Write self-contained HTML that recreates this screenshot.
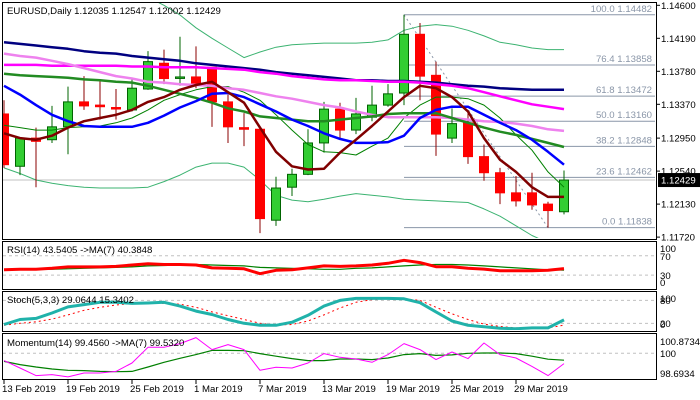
<!DOCTYPE html>
<html><head><meta charset="utf-8"><style>
html,body{margin:0;padding:0;background:#fff;}
svg{display:block;font-family:"Liberation Sans",sans-serif;}
</style></head><body>
<svg id="c" width="700" height="400" viewBox="0 0 700 400" xmlns="http://www.w3.org/2000/svg">
<defs>
<clipPath id="cm"><rect x="3" y="3" width="652" height="235"/></clipPath>
<clipPath id="cr"><rect x="3" y="242" width="652" height="46"/></clipPath>
<clipPath id="cs"><rect x="3" y="292" width="652" height="38"/></clipPath>
<clipPath id="cmo"><rect x="3" y="334" width="652" height="45"/></clipPath>
</defs>
<rect x="0" y="0" width="700" height="400" fill="#fff"/>
<g id="main"></g>
<g id="rsi"></g>
<g id="stoch"></g>
<g id="mom"></g>
<g id="axes"></g>
</svg>
<script>
const opens=[1.1325,1.1260,1.1295,1.1293,1.1309,1.1340,1.1336,1.1333,1.1330,1.1356,1.1388,1.1370,1.1371,1.1383,1.1340,1.1308,1.1306,1.1193,1.1234,1.1250,1.1289,1.1331,1.1305,1.1321,1.1336,1.1351,1.1424,1.1373,1.1295,1.1314,1.1272,1.1252,1.1227,1.1227,1.1213,1.12035];
const highs=[1.1342,1.1296,1.1308,1.1335,1.1359,1.1372,1.1367,1.1356,1.1369,1.1403,1.1405,1.1421,1.1409,1.1383,1.1349,1.1326,1.1306,1.1247,1.1257,1.1306,1.1340,1.1339,1.1345,1.1360,1.1362,1.14482,1.1438,1.1390,1.1332,1.1326,1.1287,1.1258,1.1248,1.1252,1.1216,1.12547];
const lows=[1.1258,1.1249,1.1234,1.1289,1.1275,1.1330,1.1318,1.1318,1.1328,1.1355,1.1362,1.1360,1.1357,1.1309,1.1289,1.1285,1.1177,1.1186,1.1223,1.1249,1.1277,1.1293,1.1300,1.1316,1.1334,1.1336,1.1342,1.1273,1.1289,1.1263,1.1242,1.1213,1.1210,1.1206,1.11838,1.12002];
const closes=[1.1262,1.1295,1.1291,1.1309,1.1340,1.1335,1.1334,1.1332,1.1357,1.1390,1.1369,1.1371,1.1363,1.1340,1.1309,1.1306,1.1195,1.1233,1.1250,1.1289,1.1331,1.1305,1.1325,1.1336,1.1350,1.1424,1.1372,1.1300,1.1313,1.1272,1.1252,1.1227,1.1217,1.1212,1.1205,1.12429];
const maNavy=[1.1414,1.1412,1.1410,1.1408,1.1406,1.1403,1.1401,1.1400,1.1397,1.1395,1.1393,1.1391,1.1388,1.1386,1.1384,1.1382,1.1380,1.1377,1.1375,1.1373,1.1371,1.1369,1.1367,1.1367,1.1366,1.1366,1.1365,1.1364,1.1362,1.1360,1.1359,1.1357,1.1356,1.1355,1.1355,1.1355];
const maMagenta=[1.1386,1.1386,1.1386,1.1385,1.1385,1.1385,1.1385,1.1385,1.1384,1.1384,1.1383,1.1383,1.1383,1.1382,1.1381,1.1380,1.1377,1.1375,1.1372,1.1370,1.1368,1.1367,1.1367,1.1366,1.1365,1.1365,1.1364,1.1362,1.1360,1.1357,1.1352,1.1347,1.1342,1.1337,1.1334,1.1331];
const maViolet=[1.1400,1.1397,1.1395,1.1391,1.1387,1.1382,1.1377,1.1372,1.1369,1.1365,1.1364,1.1362,1.1361,1.1360,1.1357,1.1355,1.1351,1.1347,1.1344,1.1340,1.1336,1.1333,1.1328,1.1324,1.1321,1.1321,1.1321,1.1321,1.1320,1.1318,1.1316,1.1315,1.1313,1.1310,1.1306,1.1304];
const maGreen=[1.1375,1.1373,1.1372,1.1371,1.1370,1.1368,1.1367,1.1365,1.1364,1.1360,1.1355,1.1350,1.1345,1.1339,1.1332,1.1328,1.1322,1.1320,1.1318,1.1316,1.1316,1.1318,1.1320,1.1322,1.1325,1.1326,1.1326,1.1326,1.1320,1.1314,1.1308,1.1303,1.1299,1.1294,1.1289,1.1284];
const maBlue=[1.1360,1.1349,1.1336,1.1324,1.1316,1.1310,1.1309,1.1309,1.1309,1.1314,1.1323,1.1333,1.1341,1.1350,1.1351,1.1346,1.1337,1.1328,1.1318,1.1310,1.1301,1.1294,1.1289,1.1289,1.1290,1.1298,1.1320,1.1330,1.1334,1.1334,1.1324,1.1314,1.1305,1.1293,1.1278,1.1262];
const maMaroon=[1.1301,1.1295,1.1293,1.1298,1.1308,1.1316,1.1320,1.1324,1.1330,1.1340,1.1346,1.1355,1.1361,1.1365,1.1352,1.1339,1.1308,1.1278,1.1260,1.1256,1.1257,1.1277,1.1293,1.1310,1.1328,1.1346,1.1360,1.1357,1.1346,1.1328,1.1295,1.1268,1.1253,1.1234,1.1222,1.1222];
const maThin=[1.1311,1.1308,1.1305,1.1305,1.1308,1.1309,1.1310,1.1314,1.1320,1.1330,1.1342,1.1349,1.1355,1.1359,1.1359,1.1352,1.1342,1.1324,1.1305,1.1287,1.1278,1.1277,1.1274,1.1285,1.1295,1.1320,1.1336,1.1346,1.1346,1.1344,1.1336,1.1320,1.1299,1.1280,1.1253,1.1234];
const bandUpper=[1.1516,1.1516,1.1514,1.1510,1.1506,1.1501,1.1494,1.1487,1.1479,1.1470,1.1460,1.1448,1.1432,1.1419,1.1407,1.1395,1.1402,1.1408,1.1411,1.1412,1.1413,1.1413,1.1413,1.1414,1.1417,1.1429,1.1434,1.1436,1.1434,1.1429,1.1422,1.1414,1.1411,1.1407,1.1405,1.1405];
const bandLower=[1.1258,1.1251,1.1243,1.1239,1.1236,1.1234,1.1233,1.1233,1.1233,1.1234,1.1241,1.1249,1.1259,1.1264,1.1264,1.1259,1.1243,1.1224,1.1218,1.1216,1.1219,1.1223,1.1226,1.1224,1.1222,1.1219,1.1218,1.1217,1.1216,1.1215,1.1207,1.1198,1.1186,1.1174,1.1165,1.1156];
const fibLevels=["100.0","76.4","61.8","50.0","38.2","23.6","0.0"];
const fibPrices=[1.14482,1.13858,1.13472,1.13160,1.12848,1.12462,1.11838];
const priceTicks=[1.14600,1.14190,1.13780,1.13370,1.12950,1.12540,1.12130,1.11720];
const rsiVals=[41,42,42,44,47,47,47,48,51,53.6,52,52,51,45,44,43,33,40,41,45,49,48,49,51,54.5,60.6,56,47.5,47.5,44,42.5,39,39,39,40,43.54];
const rsiMA=[41,41,42,42,43,44,45,46,47,49,50,51,52,51,50,49,46,45,44,43,42,42,44,45,47,49,51,52,52,51,49,47,45,43,41,40.38];
const stochK=[17,30,33,47,63,69,75,75,72,73,75,65,52,43,30,20,15,15,23,41,65,80,85,85,85,84,74,50,26,15,11,7,6,8,8,29.06];
const stochD=[15,20,24,31,42,54,62,68,72,73,72,70,62,50,40,30,20,16,17,26,42,60,75,82,84,84,80,62,45,30,18,12,8,8,8,15.34];
const momVals=[99.50,99.0,98.48,98.55,98.39,98.66,98.66,98.77,99.34,100.41,100.41,100.66,101.07,100.25,100.59,100.25,98.84,99.05,99.0,99.34,99.98,99.73,99.61,99.39,99.91,100.66,100.25,99.57,100.09,99.64,100.70,99.91,99.68,99.11,98.48,99.30];
const momMA=[99.45,99.23,99.07,98.93,98.84,98.82,98.77,98.75,98.77,99.07,99.39,99.66,99.91,100.2,100.2,100.18,99.98,99.80,99.64,99.5,99.5,99.61,99.61,99.57,99.68,99.91,99.98,99.86,99.89,100.0,100.02,100.02,99.98,99.8,99.6,99.53];
const dateLabels=["13 Feb 2019","19 Feb 2019","25 Feb 2019","1 Mar 2019","7 Mar 2019","13 Mar 2019","19 Mar 2019","25 Mar 2019","29 Mar 2019"];
const dateBars=[0,4,8,12,16,20,24,28,32];

const NS="http://www.w3.org/2000/svg";
const FS=9.6;
function mk(tag,attrs,parent,txt){const e=document.createElementNS(NS,tag);for(const k in attrs)e.setAttribute(k,attrs[k]);if(txt!==undefined)e.textContent=txt;parent.appendChild(e);return e;}
const X=i=>4+16*i;
const yP=p=>5.3+(1.146-p)*8049;
const yR=v=>289.6-v*0.483;
const yS=v=>331-v*0.383;
const yM=v=>353.3-(v-100)*14.68;
const main=document.getElementById('main'),rsi=document.getElementById('rsi'),st=document.getElementById('stoch'),mo=document.getElementById('mom'),ax=document.getElementById('axes');

[[2,2,654,237],[2,241,654,48],[2,291,654,40],[2,333,654,46]].forEach((r,k)=>{
 const f=mk('rect',{x:r[0]+0.5,y:r[1]+0.5,width:r[2],height:r[3],fill:'none',stroke:'#000','stroke-width':1},ax);
 
 
});

const gm=mk('g',{'clip-path':'url(#cm)'},main);
fibPrices.forEach((p,k)=>{
 const l=mk('line',{x1:X(25),x2:655,y1:yP(p),y2:yP(p),stroke:'#8a96a8','stroke-width':1},gm);
 
 
 const t=mk('text',{x:652,y:yP(p)-3,'text-anchor':'end','font-size':FS,fill:'#8a96a8'},gm,fibLevels[k]+' '+p.toFixed(5));
 
 
});
const fd=mk('line',{x1:X(25),y1:yP(highs[25]),x2:X(34),y2:yP(lows[34]),stroke:'#8a96a8','stroke-width':1,'stroke-dasharray':'2,3'},gm);


const last=closes[closes.length-1];
const pl=mk('line',{x1:3,x2:655,y1:yP(last),y2:yP(last),stroke:'#c0c0c0','stroke-width':1},gm);



function line(g,arr,yf,color,w,name,dash){
 const pts=arr.map((v,i)=>X(i)+','+yf(v).toFixed(1)).join(' ');
 const a={points:pts,fill:'none',stroke:color,'stroke-width':w,'stroke-linejoin':'round'};
 if(dash)a['stroke-dasharray']=dash;
 const e=mk('polyline',a,g);
 
 
 return e;
}
line(gm,bandUpper,yP,'#3cb371',1,'bollinger-upper');
line(gm,bandLower,yP,'#3cb371',1,'bollinger-lower');
opens.forEach((o,i)=>{
 const c=closes[i],up=c>=o,x=X(i);
 const g=mk('g',{},gm);
 
 
 mk('line',{x1:x,x2:x,y1:yP(highs[i]),y2:yP(lows[i]),stroke:up?'#006400':'#8b0000','stroke-width':1},g);
 const t=Math.min(yP(o),yP(c)),h=Math.max(1.5,Math.abs(yP(o)-yP(c)));
 mk('rect',{x:x-4.5,y:t,width:9,height:h,fill:up?'#32cd32':'#ff0000',stroke:up?'#006400':'#ff0000','stroke-width':1},g);
});
line(gm,maThin,yP,'#008000',1,'ma-thin-green');
line(gm,maNavy,yP,'#000080',2.5,'ma-navy');
line(gm,maMagenta,yP,'#ff00ff',2.5,'ma-magenta');
line(gm,maViolet,yP,'#ee82ee',2.5,'ma-violet');
line(gm,maGreen,yP,'#228b22',2.5,'ma-green');
line(gm,maBlue,yP,'#0000ff',2.5,'ma-blue');
line(gm,maMaroon,yP,'#800000',2.5,'ma-maroon');
const ht=mk('text',{x:7,y:14,'font-size':FS,fill:'#000'},main,'EURUSD,Daily  1.12035 1.12547 1.12002 1.12429');



priceTicks.forEach(p=>{
 mk('line',{x1:656,x2:660,y1:yP(p),y2:yP(p),stroke:'#000'},ax);
 const t=mk('text',{x:661,y:yP(p)+3.5,'font-size':FS,fill:'#000'},ax,p.toFixed(5));
 
 
});
const pb=mk('rect',{x:658,y:yP(last)-7,width:42,height:14,fill:'#000'},ax);


const pt=mk('text',{x:661,y:yP(last)+3.5,'font-size':FS,fill:'#fff'},ax,last.toFixed(5));



const gr=mk('g',{'clip-path':'url(#cr)'},rsi);
[70,30].forEach(v=>mk('line',{x1:3,x2:655,y1:yR(v),y2:yR(v),stroke:'#c0c0c0','stroke-dasharray':'3,3'},gr));
line(gr,rsiMA,yR,'#008000',1.2,'rsi-ma-line');
line(gr,rsiVals,yR,'#ff0000',3,'rsi-line');
const rt=mk('text',{x:7,y:253,'font-size':FS,fill:'#000'},rsi,'RSI(14) 43.5405  ->MA(7) 40.3848');


[['100',252],['70',260],['30',279],['0',286]].forEach(a=>{const t=mk('text',{x:660,y:a[1],'font-size':FS,fill:'#000'},ax,a[0]);});

const gs=mk('g',{'clip-path':'url(#cs)'},st);
[80,20].forEach(v=>mk('line',{x1:3,x2:655,y1:yS(v),y2:yS(v),stroke:'#c0c0c0','stroke-dasharray':'3,3'},gs));
line(gs,stochD,yS,'#ff0000',1,'stoch-signal-line','2,3');
line(gs,stochK,yS,'#20b2aa',3,'stoch-main-line');
const stt=mk('text',{x:7,y:303,'font-size':FS,fill:'#000'},st,'Stoch(5,3,3) 29.0644 15.3402');


[['100',302],['80',304],['20',327],['0',328]].forEach(a=>{const t=mk('text',{x:660,y:a[1],'font-size':FS,fill:'#000'},ax,a[0]);});

const go=mk('g',{'clip-path':'url(#cmo)'},mo);
mk('line',{x1:3,x2:655,y1:yM(100),y2:yM(100),stroke:'#c0c0c0','stroke-dasharray':'3,3'},go);
line(go,momMA,yM,'#008000',1.2,'momentum-ma-line');
line(go,momVals,yM,'#ff00ff',1,'momentum-line');
const mt=mk('text',{x:7,y:346,'font-size':FS,fill:'#000'},mo,'Momentum(14) 99.4560  ->MA(7) 99.5320');


[['100.8734',345],['100',357],['98.6934',377]].forEach(a=>{const t=mk('text',{x:660,y:a[1],'font-size':FS,fill:'#000'},ax,a[0]);});

dateLabels.forEach((d,k)=>{
 const x=X(dateBars[k]);
 mk('line',{x1:x,x2:x,y1:379,y2:384,stroke:'#000'},ax);
 const t=mk('text',{x:x-2,y:392,'font-size':FS,fill:'#000'},ax,d);
 
 
});
</script>
</body></html>
